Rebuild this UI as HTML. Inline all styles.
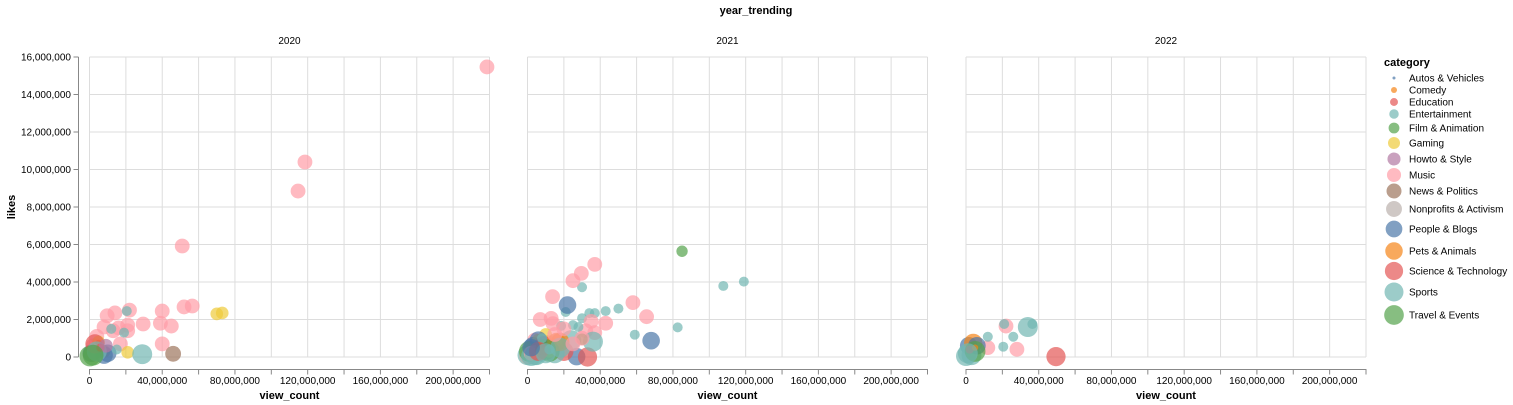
<!DOCTYPE html>
<html><head><meta charset="utf-8">
<style>
body{margin:0;background:#fff;}
svg{display:block;font-family:"Liberation Sans",Arial,sans-serif;}
</style></head>
<body>
<svg id="chart" width="1513" height="405"></svg>
<script>
const years = ["2020","2021","2022"];
const categories = ["Autos & Vehicles","Comedy","Education","Entertainment","Film & Animation","Gaming","Howto & Style","Music","News & Politics","Nonprofits & Activism","People & Blogs","Pets & Animals","Science & Technology","Sports","Travel & Events"];
const colors = ["#4c78a8","#f58518","#e45756","#72b7b2","#54a24b","#eeca3b","#b279a2","#ff9da6","#9d755d","#bab0ac","#4c78a8","#f58518","#e45756","#72b7b2","#54a24b"];
const xTicks = [0,40,80,120,160,200];
const yTicks = [0,2,4,6,8,10,12,14,16];
// 2020 (view_count and likes in millions)
const cats2020 = [7,7,7,7,7,7,7,7,7,7, 7,7,7,7,7,7,7,7,7,7, 7,7,5,5,5,5,5,8,13,3, 3,3,10,10,10,14,1,12,3,13, 2,6,14];
const views2020 = [218.6,118.5,114.7,51,40,52,56.5,29.5,39,45, 40,22,14,9.7,8,16,21,21,4,13, 17,2,70,73,21,8,5,46,29,20.5, 19,12,1,8,10,0.2,5,3,15,4, 6,9,2];
const likes2020 = [15.47,10.4,8.85,5.92,2.45,2.67,2.72,1.76,1.8,1.65, 0.7,2.5,2.35,2.2,1.6,1.55,1.7,1.4,1.1,1.4, 0.7,0.6,2.3,2.35,0.25,0.3,0.8,0.17,0.15,2.45, 1.3,1.5,0.2,0.1,0.2,0.05,0.75,0.7,0.4,0.3, 0.5,0.6,0.1];
// 2021
const cats2021 = [4,3,3,3,3,3,3,3,3,3, 3,3,3,3,7,7,7,7,7,7, 7,7,7,7,7,7,7,7,10,10, 10,10,12,12,12,13,13,13,13,13, 5,5,5,11,4,1,2,6,9,14, 14,13,7,3,5,12,10,11,13,14, 7,7,3,13,12,7,3,13,10,7];
const views2021 = [85,107.7,119,82.6,59,50,43,37,34,30, 30,25,21,18.5,37,29.6,25,13.8,58,65.5, 43,7,13,35,37,32,14,4,22,68, 27,3,33,11,20,24,36,15,5,0, 16,6,10,18,30,8,5,3,0,12, 1,2,2,28,12,9,6,16,4,10, 20,30,8,18,6,25,12,10,2,15];
const likes2021 = [5.64,3.79,4.02,1.58,1.19,2.58,2.45,2.34,2.34,3.72, 2.07,1.7,2.4,1.66,4.94,4.46,4.07,3.22,2.9,2.15, 1.8,2.0,2.06,1.9,1.3,1.4,1.78,0.9,2.77,0.87, 0.02,0.6,0.0,0.64,0.3,0.9,0.82,0.2,0.1,0.1, 0.9,0.9,1.2,0.8,0.95,0.8,0.5,0.5,0.05,0.3, 0.3,0.05,0.2,1.6,0.3,0.6,0.9,0.8,0.1,0.4, 1.5,1.0,1.0,0.5,0.3,0.7,0.4,0.2,0.5,1.2];
// 2022
const cats2022 = [12,13,3,7,3,3,3,7,7,3, 10,11,13,13,10,14,2,1,13];
const views2022 = [49.5,34,36.5,22,21,26,20.5,28,12,12, 1.5,4,0,3,6,5,2,5,1];
const likes2022 = [0.02,1.6,1.76,1.65,1.76,1.08,0.55,0.41,0.5,1.08, 0.6,0.75,0.05,0.1,0.6,0.3,0.4,0.5,0.2];

const panelCats=[cats2020,cats2021,cats2022];
const panelViews=[views2020,views2021,views2022];
const panelLikes=[likes2020,likes2021,likes2022];

const NS="http://www.w3.org/2000/svg";
const svg=document.getElementById('chart');
function mk(tag,attrs,parent,text){const e=document.createElementNS(NS,tag);for(const k in attrs)e.setAttribute(k,attrs[k]);if(text!==undefined)e.textContent=text;(parent||svg).appendChild(e);return e;}
const panelX=[89.5,527.5,966];
const W=400,H=300,TOP=57;
const X_MAX=220,Y_MAX=16;
function xs(v,p){return panelX[p]+v/X_MAX*W;}
function ys(v){return TOP+H-v/Y_MAX*H;}
function fmt(m){return (m*1000000).toLocaleString('en-US');}
function radius(ci){return Math.sqrt((8+23.5*ci)/Math.PI);}

const t=mk('text',{x:756,y:14,'text-anchor':'middle','font-size':11,'font-weight':'bold',fill:'#000'},svg,'year_trending');



years.forEach((yr,p)=>{
  const g=mk('g',{});
  
  
  const ft=mk('text',{x:panelX[p]+W/2,y:44,'text-anchor':'middle','font-size':10,fill:'#000'},g,yr);
  
  
  for(let v=0;v<=X_MAX;v+=20){const l=mk('line',{x1:xs(v,p),x2:xs(v,p),y1:TOP,y2:TOP+H,stroke:'#ddd','stroke-width':1},g);}
  mk('line',{x1:panelX[p]+W,x2:panelX[p]+W,y1:TOP,y2:TOP+H,stroke:'#ddd'},g);
  yTicks.forEach(v=>{const l=mk('line',{x1:panelX[p],x2:panelX[p]+W,y1:ys(v),y2:ys(v),stroke:'#ddd'},g);});
  const ax=mk('g',{},g);
  
  
  mk('line',{x1:panelX[p]-0.5,x2:panelX[p]+W+0.5,y1:369.5,y2:369.5,stroke:'#888'},ax);
  for(let v=0;v<=X_MAX;v+=20){mk('line',{x1:xs(v,p),x2:xs(v,p),y1:369.5,y2:374.5,stroke:'#888'},ax);}
  xTicks.forEach(v=>{const tl=mk('text',{x:xs(v,p),y:384,'text-anchor':'middle','font-size':10,fill:'#000'},ax,fmt(v));});
  const xt=mk('text',{x:panelX[p]+W/2,y:399,'text-anchor':'middle','font-size':11,'font-weight':'bold',fill:'#000'},ax,'view_count');
  
  
  const cs=panelCats[p],vs=panelViews[p],ls=panelLikes[p];
  for(let i=0;i<cs.length;i++){
    const c=mk('circle',{cx:xs(vs[i],p),cy:ys(ls[i]),r:radius(cs[i]),fill:colors[cs[i]],'fill-opacity':0.7},g);
    
    
  }
});
const ya=mk('g',{});


mk('line',{x1:78.5,x2:78.5,y1:TOP,y2:TOP+H,stroke:'#888'},ya);
yTicks.forEach(v=>{mk('line',{x1:73.5,x2:78.5,y1:ys(v),y2:ys(v),stroke:'#888'},ya);const tl=mk('text',{x:71,y:ys(v)+3.5,'text-anchor':'end','font-size':10,fill:'#000'},ya,fmt(v));});
const yt=mk('text',{x:15,y:207,'text-anchor':'middle','font-size':11,'font-weight':'bold',fill:'#000',transform:'rotate(-90 15 207)'},ya,'likes');


const lg=mk('g',{});


const lt=mk('text',{x:1384,y:66,'font-size':11,'font-weight':'bold',fill:'#000'},lg,'category');


const legY=[78,90,102,114,128,143,159,175,191,209,229,251,271,292,315];
categories.forEach((c,i)=>{
  const e=mk('g',{},lg);
  
  
  mk('circle',{cx:1394,cy:legY[i],r:radius(i)*0.95,fill:colors[i],'fill-opacity':0.7},e);
  mk('text',{x:1409,y:legY[i]+3.5,'font-size':10,fill:'#000'},e,c);
});
</script>
</body></html>
